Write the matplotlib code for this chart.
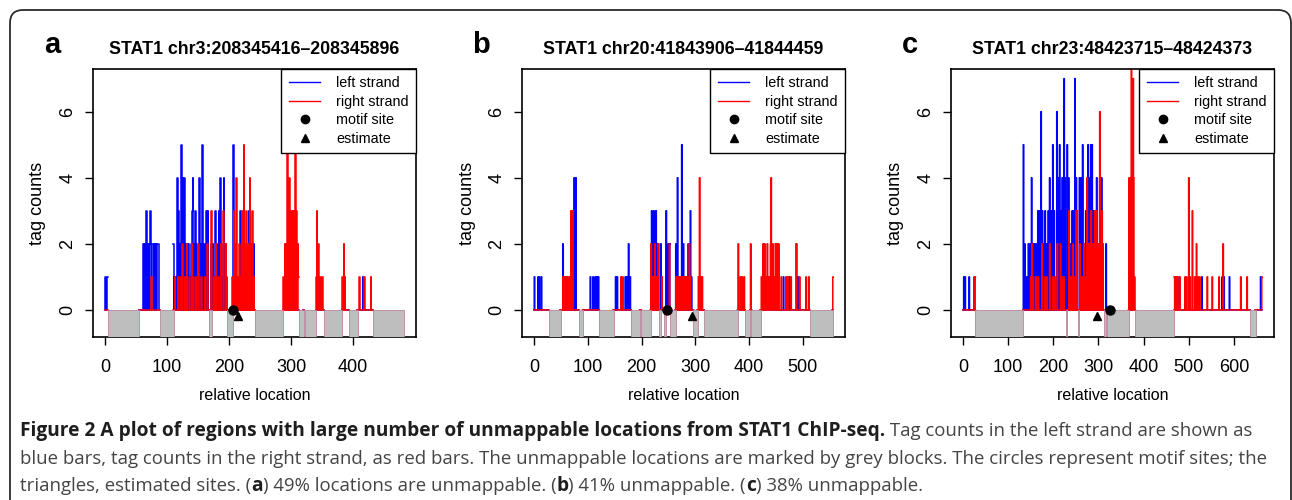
import numpy as np
import matplotlib
matplotlib.use("Agg")
import matplotlib.pyplot as plt
from matplotlib.lines import Line2D
from matplotlib.patches import FancyBboxPatch
from matplotlib.transforms import IdentityTransform

plt.rcParams['font.family'] = ['Liberation Sans', 'DejaVu Sans']

# ---- data: (position, tag count) per strand ----
a_title = "STAT1 chr3:208345416\u2013208345896"
a_len = 482
a_left = [(1, 1), (4, 1), (61, 2), (62, 2), (64, 2), (66, 2), (67, 3), (69, 2), (70, 2), (72, 2),
          (73, 3), (77, 2), (78, 2), (80, 2), (82, 2), (84, 2), (85, 2), (86, 2),
          (110, 2), (112, 1), (114, 1), (116, 2), (117, 4), (119, 3), (121, 2), (123, 5), (124, 3),
          (126, 4), (128, 4), (130, 2), (131, 1), (133, 2), (135, 2), (137, 1), (139, 2), (141, 3),
          (142, 4), (144, 2), (146, 3), (148, 2), (150, 1), (152, 4), (153, 4), (155, 2), (157, 5),
          (158, 4), (160, 2), (162, 1), (164, 3), (166, 3), (172, 2), (174, 2), (176, 1), (178, 3),
          (180, 1), (182, 2), (184, 3), (186, 4), (188, 2), (190, 1), (192, 4), (194, 2), (196, 1),
          (207, 5), (209, 2), (211, 2), (214, 1), (218, 3), (220, 2), (222, 1), (228, 2), (232, 3),
          (236, 2), (240, 2), (298, 1), (416, 1)]
a_right = [(75, 1), (113, 1), (118, 1), (122, 1), (125, 2), (129, 1), (132, 2), (136, 1), (140, 2),
           (143, 1), (147, 1), (151, 2), (156, 1), (161, 1), (165, 2), (172, 3), (176, 1), (179, 2),
           (183, 1), (187, 2), (191, 3), (195, 2), (206, 1), (208, 3), (210, 2), (212, 4), (213, 2),
           (215, 1), (217, 2), (219, 1), (221, 3), (223, 2), (224, 5), (226, 2), (228, 3), (230, 1),
           (232, 2), (234, 4), (236, 1), (238, 3), (240, 1),
           (288, 1), (290, 2), (292, 2), (294, 7), (295, 7), (297, 4), (299, 1), (301, 3), (303, 3),
           (305, 3), (307, 5), (309, 3), (311, 2), (312, 1),
           (341, 1), (342, 3), (344, 2), (347, 1), (351, 1), (383, 1), (385, 2), (387, 1),
           (410, 1), (418, 1), (429, 1), (482, 1)]
a_unmappable = [(4.8, 55.6), (88.2, 110.7), (167.9, 171.7), (197.3, 205.9), (241.7, 287.2),
                (312.8, 320.3), (321.9, 340.6), (353, 382), (392.5, 407.5), (431.6, 482.4)]
a_motif = 207
a_estimate = 215

b_title = "STAT1 chr20:41843906\u201341844459"
b_len = 556
b_left = [(1, 1), (8, 1), (10, 1), (14, 1), (54, 2), (57, 1), (61, 1), (66, 1), (71, 3), (75, 4), (78, 4),
          (105, 1), (110, 1), (114, 1), (117, 1), (120, 1),
          (152, 1), (155, 1), (170, 1), (173, 1), (176, 2), (179, 1),
          (219, 3), (223, 3), (227, 3), (230, 2), (236, 2), (238, 1), (246, 3), (250, 2), (253, 2),
          (264, 2), (267, 4), (271, 1), (275, 5), (278, 2), (281, 1), (287, 2), (291, 3), (293, 1),
          (464, 1), (470, 1), (475, 1), (488, 2), (491, 1)]
b_right = [(54, 1), (57, 1), (60, 1), (63, 1), (67, 1), (69, 3), (72, 3), (162, 1), (165, 1),
           (218, 2), (220, 1), (222, 1), (225, 2), (228, 1), (231, 2), (232, 2), (238, 1),
           (252, 2), (264, 1), (265, 1), (269, 1), (273, 1), (276, 1), (279, 1), (282, 1), (285, 1),
           (289, 2), (291, 1), (306, 1), (308, 4), (310, 1), (313, 1),
           (380, 2), (384, 1), (387, 1), (391, 1), (403, 2),
           (423, 1), (426, 2), (429, 2), (432, 1), (434, 2), (437, 1), (440, 2), (441, 4), (444, 2),
           (447, 1), (449, 2), (452, 2), (455, 2), (460, 1),
           (469, 1), (472, 1), (478, 1), (488, 2), (494, 1), (506, 1), (511, 1), (556, 1)]
b_unmappable = [(27.8, 49.4), (83.3, 91.4), (121.6, 148.1), (180.9, 197.5), (199.4, 217.3),
                (233.3, 235.8), (242.6, 245.7), (253.1, 263.6), (296.3, 304.3), (316, 379.6),
                (392, 402), (404, 421.6), (512.3, 555.6)]
b_motif = 248
b_estimate = 293

c_title = "STAT1 chr23:48423715\u201348424373"
c_len = 662
c_left = [(2, 1), (5, 1), (14, 1),
          (134, 5), (135, 1), (137, 2), (141, 1), (145, 2), (149, 2), (152, 4), (155, 2), (158, 2),
          (162, 2), (166, 3), (169, 3), (173, 6), (176, 3), (179, 2), (182, 3), (186, 2), (189, 3),
          (192, 4), (195, 3), (199, 5), (202, 3), (208, 6), (210, 4), (214, 5), (217, 3), (220, 4),
          (224, 7), (226, 4), (231, 5), (234, 4), (238, 2), (242, 3), (245, 3), (248, 7), (251, 4),
          (258, 4), (262, 4), (265, 5), (268, 2), (272, 3), (277, 5), (280, 4), (283, 5), (286, 5),
          (290, 3), (296, 4), (300, 2), (303, 4), (307, 4), (310, 1), (317, 2),
          (479, 1), (529, 1), (574, 1), (578, 1), (590, 1), (659, 1)]
c_right = [(25, 1), (27, 1),
           (150, 1), (153, 2), (156, 1), (162, 1), (167, 1), (175, 2), (181, 1), (186, 1), (192, 2),
           (199, 1), (204, 1), (209, 2), (216, 2), (219, 1), (223, 1), (235, 3), (239, 1), (243, 2),
           (247, 1), (251, 3), (253, 3), (259, 2), (261, 1), (265, 1), (268, 2), (272, 1), (275, 4),
           (278, 2), (281, 2), (284, 3), (288, 2), (292, 3), (296, 3), (300, 2), (303, 6), (308, 3),
           (310, 2),
           (368, 4), (370, 4), (373, 8), (375, 5), (377, 7), (378, 4), (380, 1),
           (468, 1), (470, 1), (473, 1), (475, 1), (480, 1), (492, 1), (495, 1), (500, 4), (503, 1),
           (508, 3), (513, 1), (517, 2), (520, 1), (524, 1), (541, 1), (552, 1), (567, 1), (576, 2),
           (615, 1), (629, 1), (662, 1)]
c_unmappable = [(27.1, 133.3), (227, 230), (254.2, 257.9), (311.4, 316.5), (318, 367.8),
                (381, 468.1), (635.2, 647.6)]
c_motif = 325
c_estimate = 296

panels = [("a", a_title, a_len, a_left, a_right, a_unmappable, a_motif, a_estimate, 93),
          ("b", b_title, b_len, b_left, b_right, b_unmappable, b_motif, b_estimate, 522),
          ("c", c_title, c_len, c_left, c_right, c_unmappable, c_motif, c_estimate, 951)]

caption_lines = [
    [("Figure 2 A plot of regions with large number of unmappable locations from STAT1 ChIP-seq.", "bold"),
     (" Tag counts in the left strand are shown as", "normal")],
    [("blue bars, tag counts in the right strand, as red bars. The unmappable locations are marked by "
      "grey blocks. The circles represent motif sites; the", "normal")],
    [("triangles, estimated sites. (", "normal"), ("a", "bold"), (") 49% locations are unmappable. (", "normal"),
     ("b", "bold"), (") 41% unmappable. (", "normal"), ("c", "bold"), (") 38% unmappable.", "normal")],
]

W, H = 1292, 500
fig = plt.figure(figsize=(W / 100, H / 100), dpi=100)


def strand_series(n, counts, blocks):
    # tag count at every position, NaN where the location is unmappable
    y = np.zeros(n + 1)
    for a, b in blocks:
        y[int(a) + 1:int(b)] = np.nan
    for p, c in counts:
        y[p] = c
    return y


for letter, title, n, left, right, blocks, motif, estimate, x0 in panels:
    ax = fig.add_axes([x0 / W, 1 - 337 / H, 323 / W, 268 / H])
    xs = np.arange(n + 1)
    ax.plot(xs, strand_series(n, left, blocks), drawstyle="steps-mid", color="#0000ff", lw=1.1)
    ax.plot(xs, strand_series(n, right, blocks), drawstyle="steps-mid", color="#ff0000", lw=1.1)

    starts = [a for a, b in blocks]
    widths = [b - a for a, b in blocks]
    ax.bar(starts, 1, width=widths, bottom=-1, align="edge", color="#bebebe",
           edgecolor="#b9849a", linewidth=0.6, zorder=3)

    ax.plot([motif], [0], "o", color="black", ms=6.5, zorder=5)
    ax.plot([estimate], [-0.18], "^", color="black", ms=5.5, zorder=5)

    ax.set_xlim(-0.04 * n, 1.04 * n)
    ax.set_ylim(-0.82, 7.29)
    ax.set_yticks([0, 2, 4, 6])
    ax.set_xticks(np.arange(0, n + 1, 100))
    ax.tick_params(direction="out", length=6, width=1, labelsize=13, pad=10)
    ax.tick_params(axis="y", labelrotation=90, pad=6)
    for lab in ax.get_yticklabels():
        lab.set_va("center")
    for s in ax.spines.values():
        s.set_linewidth(1.2)

    handles = [Line2D([], [], color="#0000ff", lw=1),
               Line2D([], [], color="#ff0000", lw=1),
               Line2D([], [], color="black", marker="o", ls="none", ms=6),
               Line2D([], [], color="black", marker="^", ls="none", ms=6)]
    leg = ax.legend(handles, ["left strand", "right strand", "motif site", "estimate"],
                    loc="upper right", fancybox=False, edgecolor="black", framealpha=1,
                    borderaxespad=0, fontsize=10.4, handlelength=2.2, handletextpad=1.1,
                    labelspacing=0.32, borderpad=0.5)
    leg.get_frame().set_linewidth(1.0)

    cx = (x0 + 161.5) / W
    fig.text(cx, 1 - 49 / H, title, ha="center", va="center", fontsize=12.8, fontweight="bold")
    fig.text((x0 - 41) / W, 1 - 45 / H, letter, ha="center", va="center", fontsize=21, fontweight="bold")
    fig.text(cx, 1 - 396 / H, "relative location", ha="center", va="center", fontsize=11.5)
    fig.text((x0 - 55) / W, 1 - 203 / H, "tag counts", ha="center", va="center", fontsize=13, rotation=90)

# rounded frame around the figure panel
frame = FancyBboxPatch((10, -30), 1281, 520, boxstyle="round,pad=0,rounding_size=13",
                       transform=IdentityTransform(), fill=False, edgecolor="#2b2b2b", linewidth=1.3)
fig.add_artist(frame)

# caption, bold and regular runs laid out one after another
renderer = fig.canvas.get_renderer()
cap_font = ["Open Sans", "DejaVu Sans"]
for i, runs in enumerate(caption_lines):
    x = 20
    y = 1 - (431 + 27.5 * i) / H
    for txt, weight in runs:
        if weight == "bold":
            col, size = "#1e1e1e", 13.75
        else:
            col, size = "#444444", 13.4
        t = fig.text(x / W, y, txt, ha="left", va="center", fontsize=size, fontweight=weight,
                     family=cap_font, color=col)
        x = t.get_window_extent(renderer).x1

fig.savefig("out.png", dpi=100)
